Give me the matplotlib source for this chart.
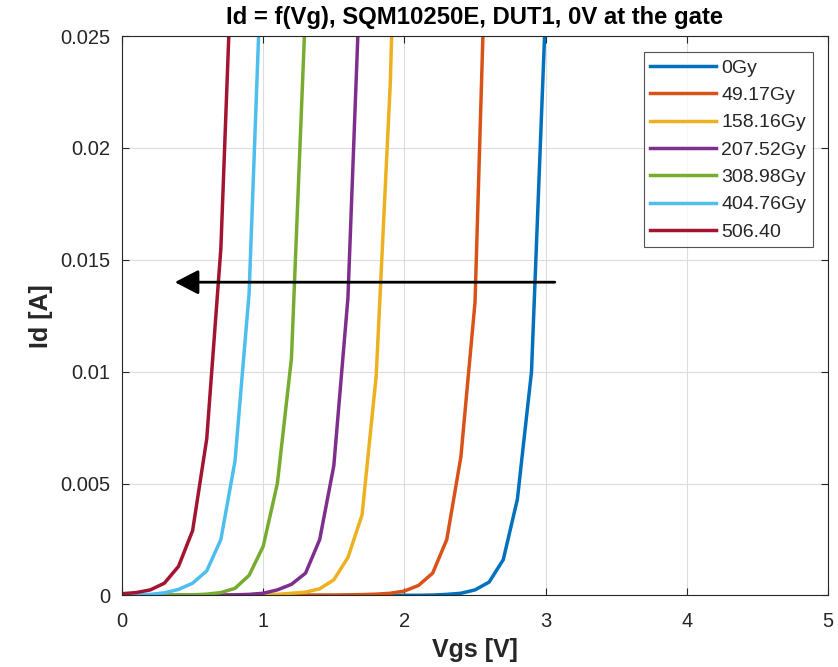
import matplotlib
matplotlib.use("Agg")
import matplotlib.pyplot as plt

plt.rcParams['font.family'] = ['Liberation Sans', 'DejaVu Sans']

vgs = [0.0, 0.1, 0.2, 0.3, 0.4, 0.5, 0.6, 0.7, 0.8, 0.9,
       1.0, 1.1, 1.2, 1.3, 1.4, 1.5, 1.6, 1.7, 1.8, 1.9,
       2.0, 2.1, 2.2, 2.3, 2.4, 2.5, 2.6, 2.7, 2.8, 2.9, 3.0]

labels = ['0Gy', '49.17Gy', '158.16Gy', '207.52Gy', '308.98Gy', '404.76Gy', '506.40']

id_0gy = [0.0, 0.0, 0.0, 0.0, 0.0, 0.0, 0.0, 0.0, 0.0, 0.0,
          0.0, 0.0, 0.0, 0.0, 0.0, 0.0, 0.0, 0.0, 0.00001, 0.00001,
          0.00001, 0.00001, 0.00002, 0.00005, 0.0001, 0.00025, 0.0006, 0.0016, 0.0043, 0.0100, 0.0262]
id_49 = [0.0, 0.0, 0.0, 0.0, 0.0, 0.0, 0.0, 0.0, 0.0, 0.0,
         0.00001, 0.00001, 0.00001, 0.00002, 0.00002, 0.00002, 0.00003, 0.00004, 0.00006, 0.0001,
         0.0002, 0.00045, 0.0010, 0.0025, 0.0062, 0.0131, 0.0344]
id_158 = [0.0, 0.0, 0.0, 0.0, 0.0, 0.00001, 0.00001, 0.00001, 0.00002, 0.00002,
          0.00003, 0.00005, 0.0001, 0.00015, 0.0003, 0.0007, 0.0017, 0.0036, 0.0098, 0.0229, 0.045]
id_207 = [0.0, 0.0, 0.0, 0.00001, 0.00001, 0.00001, 0.00002, 0.00002, 0.00003, 0.00005,
          0.0001, 0.00025, 0.0005, 0.0010, 0.0025, 0.0058, 0.0133, 0.0300]
id_308 = [0.0, 0.00001, 0.00001, 0.00002, 0.00002, 0.00003, 0.00006, 0.00013, 0.00032, 0.0009,
          0.0022, 0.0050, 0.0106, 0.0263]
id_404 = [0.00002, 0.00003, 0.00005, 0.00012, 0.00027, 0.00055, 0.0011, 0.0025, 0.0060, 0.0135, 0.0306]
id_506 = [0.00008, 0.00013, 0.00025, 0.00055, 0.0013, 0.0029, 0.0070, 0.0155, 0.0324]

series = [id_0gy, id_49, id_158, id_207, id_308, id_404, id_506]
colors = ['#0072BD', '#D95319', '#EDB120', '#7E2F8E', '#77AC30', '#4DBEEE', '#A2142F']

arrow_start = (3.065, 0.014)
arrow_end = (0.374, 0.014)

fig = plt.figure(figsize=(8.38, 6.67), dpi=100)
ax = fig.add_axes([0.1456, 0.1072, 0.8425, 0.8388])

for ys, c, lab in zip(series, colors, labels):
    ax.plot(vgs[:len(ys)], ys, color=c, lw=2.5, label=lab, solid_joinstyle='round')

ax.set_xlim(0, 5)
ax.set_ylim(0, 0.025)
ax.set_xticks([0, 1, 2, 3, 4, 5])
ax.set_yticks([0, 0.005, 0.01, 0.015, 0.02, 0.025])
ax.set_yticklabels(['0', '0.005', '0.01', '0.015', '0.02', '0.025'])
ax.grid(True, color='#dcdcdc', lw=0.8)
ax.set_axisbelow(True)
for s in ax.spines.values():
    s.set_color('#262626')
    s.set_linewidth(0.8)
ax.tick_params(colors='#262626', labelsize=14.5, direction='in', length=5, width=0.8,
               top=True, right=True)
ax.tick_params(axis='x', pad=12)
ax.tick_params(axis='y', pad=8.5)

ax.set_xlabel('Vgs [V]', fontsize=18, fontweight='bold', color='#262626', labelpad=5)
ax.set_ylabel('Id [A]', fontsize=18, fontweight='bold', color='#262626', labelpad=5)
ax.set_title('Id = f(Vg), SQM10250E, DUT1, 0V at the gate', fontsize=17.2,
             fontweight='bold', color='#000000', pad=9)

ax.annotate('', xy=arrow_end, xytext=arrow_start,
            arrowprops=dict(arrowstyle='-|>,head_length=1.45,head_width=0.75', color='black',
                            lw=2.0, shrinkA=0, shrinkB=0))

leg = ax.legend(loc='upper right', bbox_to_anchor=(0.979, 0.971), borderaxespad=0,
                fontsize=14, frameon=True, fancybox=False, edgecolor='#262626',
                handlelength=3.35, handletextpad=0.3, labelspacing=0.5, borderpad=0.35)
leg.get_frame().set_linewidth(0.8)
for t in leg.get_texts():
    t.set_color('#262626')

fig.savefig('out.png', dpi=100)
